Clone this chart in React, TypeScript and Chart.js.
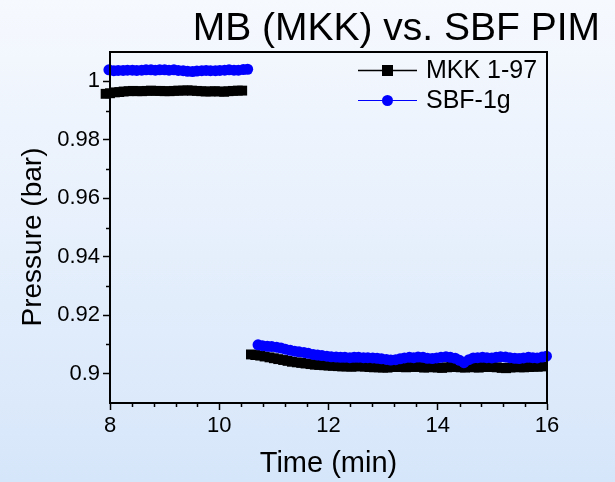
import React, { useEffect, useRef } from 'react';
import { Chart, registerables } from 'chart.js';

Chart.register(...registerables);

const chartTitle = 'MB (MKK) vs. SBF PIM';
const xAxisTitle = 'Time (min)';
const yAxisTitle = 'Pressure (bar)';
const seriesLabels = ['MKK 1-97', 'SBF-1g'];

// MKK 1-97, first segment
const mkkTime1 = [7.92, 8.0, 8.09, 8.17, 8.25, 8.34, 8.42, 8.5, 8.59, 8.67, 8.75, 8.84, 8.92, 9.0, 9.09, 9.17, 9.25, 9.34, 9.42, 9.5, 9.59, 9.67, 9.75, 9.84, 9.92, 10.0, 10.09, 10.17, 10.25, 10.34, 10.42];
const mkkPressure1 = [0.9957, 0.9959, 0.9962, 0.9963, 0.9965, 0.9966, 0.9967, 0.9966, 0.9966, 0.9967, 0.9968, 0.9967, 0.9967, 0.9966, 0.9966, 0.9967, 0.9968, 0.9968, 0.9969, 0.9968, 0.9967, 0.9966, 0.9965, 0.9965, 0.9966, 0.9965, 0.9964, 0.9966, 0.9967, 0.9968, 0.9968];
// MKK 1-97, second segment
const mkkTime2 = [10.58, 10.66, 10.75, 10.83, 10.92, 11.0, 11.08, 11.17, 11.25, 11.33, 11.42, 11.5, 11.58, 11.67, 11.75, 11.83, 11.92, 12.0, 12.08, 12.17, 12.25, 12.33, 12.42, 12.5, 12.58, 12.67, 12.75, 12.83, 12.92, 13.0, 13.08, 13.17, 13.25, 13.33, 13.42, 13.5, 13.58, 13.67, 13.75, 13.83, 13.92, 14.0, 14.08, 14.17, 14.25, 14.33, 14.42, 14.5, 14.58, 14.67, 14.75, 14.83, 14.92, 15.0, 15.08, 15.17, 15.25, 15.33, 15.42, 15.5, 15.58, 15.67, 15.75, 15.83, 15.92];
const mkkPressure2 = [0.9066, 0.9064, 0.9062, 0.9059, 0.9056, 0.9053, 0.905, 0.9047, 0.9044, 0.9041, 0.9039, 0.9037, 0.9035, 0.9033, 0.9031, 0.903, 0.9029, 0.9028, 0.9027, 0.9026, 0.9025, 0.9025, 0.9024, 0.9025, 0.9026, 0.9024, 0.9023, 0.9022, 0.9022, 0.9021, 0.9021, 0.9023, 0.9024, 0.9023, 0.9022, 0.9023, 0.9025, 0.9023, 0.9021, 0.9022, 0.9023, 0.9021, 0.902, 0.9022, 0.9024, 0.9023, 0.9022, 0.9021, 0.9023, 0.9022, 0.9021, 0.9023, 0.9024, 0.9023, 0.9022, 0.902, 0.9019, 0.9021, 0.9023, 0.9022, 0.9022, 0.9023, 0.9024, 0.9024, 0.9025];

// SBF-1g, first segment
const sbfTime1 = [7.9, 7.98, 8.07, 8.15, 8.24, 8.32, 8.41, 8.49, 8.58, 8.66, 8.75, 8.83, 8.91, 9.0, 9.08, 9.17, 9.25, 9.34, 9.42, 9.51, 9.59, 9.68, 9.76, 9.84, 9.93, 10.01, 10.1, 10.18, 10.27, 10.35, 10.44, 10.52];
const sbfPressure1 = [1.0041, 1.0039, 1.0036, 1.0037, 1.0037, 1.0038, 1.0038, 1.0037, 1.0038, 1.0039, 1.0039, 1.0038, 1.0039, 1.0039, 1.0038, 1.0039, 1.0037, 1.0036, 1.0034, 1.0033, 1.0035, 1.0036, 1.0037, 1.0036, 1.0036, 1.0037, 1.0038, 1.0039, 1.0038, 1.0038, 1.004, 1.0041];
// SBF-1g, second segment
const sbfTime2 = [10.71, 10.79, 10.88, 10.96, 11.05, 11.13, 11.21, 11.3, 11.38, 11.46, 11.55, 11.63, 11.72, 11.8, 11.88, 11.97, 12.05, 12.14, 12.22, 12.3, 12.39, 12.47, 12.55, 12.64, 12.72, 12.81, 12.89, 12.97, 13.06, 13.14, 13.23, 13.31, 13.39, 13.48, 13.56, 13.64, 13.73, 13.81, 13.9, 13.98, 14.06, 14.15, 14.23, 14.32, 14.4, 14.48, 14.57, 14.65, 14.73, 14.82, 14.9, 14.99, 15.07, 15.15, 15.24, 15.32, 15.41, 15.49, 15.57, 15.66, 15.74, 15.82, 15.91, 15.99];
const sbfPressure2 = [0.9099, 0.9096, 0.9094, 0.9093, 0.9091, 0.9088, 0.9084, 0.908, 0.9077, 0.9075, 0.9073, 0.907, 0.9066, 0.9064, 0.9062, 0.906, 0.9058, 0.9057, 0.9056, 0.9056, 0.9055, 0.9056, 0.9056, 0.9055, 0.9055, 0.9054, 0.9053, 0.9051, 0.9049, 0.9047, 0.9048, 0.9051, 0.9054, 0.9056, 0.9055, 0.9057, 0.9056, 0.9053, 0.9052, 0.9054, 0.9056, 0.9058, 0.9056, 0.9053, 0.9046, 0.9038, 0.9048, 0.9054, 0.9055, 0.9056, 0.9055, 0.9054, 0.9056, 0.9058, 0.9057, 0.9055, 0.9053, 0.9052, 0.9054, 0.9056, 0.9055, 0.9054, 0.9057, 0.906];

const xTicks = [8, 10, 12, 14, 16];
const xTickLabels = ['8', '10', '12', '14', '16'];
const xMinorTicks = [8.4, 8.8, 9.2, 9.6, 10.4, 10.8, 11.2, 11.6, 12.4, 12.8, 13.2, 13.6, 14.4, 14.8, 15.2, 15.6];
const yTicks = [0.9, 0.92, 0.94, 0.96, 0.98, 1];
const yTickLabels = ['0.9', '0.92', '0.94', '0.96', '0.98', '1'];
const yMinorTicks = [0.91, 0.93, 0.95, 0.97, 0.99];

const FONT = '"Liberation Sans", Arial, sans-serif';

function pts(t: number[], p: number[]) {
  return t.map((x, i) => ({ x, y: p[i] }));
}

const decorPlugin = {
  id: 'decor',
  afterDraw(chart: any) {
    const ctx = chart.ctx as CanvasRenderingContext2D;
    const { left, right, top, bottom } = chart.chartArea;
    const xs = chart.scales.x;
    const ys = chart.scales.y;
    ctx.save();
    // frame
    ctx.strokeStyle = '#000';
    ctx.lineWidth = 2;
    ctx.strokeRect(left, top, right - left, bottom - top);
    // minor ticks
    ctx.lineWidth = 1.5;
    ctx.beginPath();
    xMinorTicks.forEach((v) => {
      const px = Math.round(xs.getPixelForValue(v)) + 0.5;
      ctx.moveTo(px, bottom);
      ctx.lineTo(px, bottom + 4);
    });
    yMinorTicks.forEach((v) => {
      const py = Math.round(ys.getPixelForValue(v)) + 0.5;
      ctx.moveTo(left, py);
      ctx.lineTo(left - 4, py);
    });
    ctx.stroke();
    // chart title
    ctx.fillStyle = '#000';
    ctx.font = `39px ${FONT}`;
    ctx.textAlign = 'right';
    ctx.textBaseline = 'alphabetic';
    ctx.fillText(chartTitle, 600, 40);
    // y axis title
    ctx.save();
    ctx.translate(33, 237);
    ctx.rotate(-Math.PI / 2);
    ctx.font = `28px ${FONT}`;
    ctx.textAlign = 'center';
    ctx.textBaseline = 'middle';
    ctx.fillText(yAxisTitle, 0, 0);
    ctx.restore();
    // legend
    const rows = [70, 100];
    chart.data.datasets.forEach((ds: any, i: number) => {
      const y = rows[i];
      ctx.strokeStyle = ds.borderColor;
      ctx.lineWidth = ds.borderWidth;
      ctx.beginPath();
      ctx.moveTo(358, y + 0.5);
      ctx.lineTo(417, y + 0.5);
      ctx.stroke();
      ctx.fillStyle = ds.pointBackgroundColor;
      if (ds.pointStyle === 'rect') {
        ctx.fillRect(382, y - 5, 11, 11);
      } else {
        ctx.beginPath();
        ctx.arc(387.5, y + 0.5, 5.5, 0, Math.PI * 2);
        ctx.fill();
      }
      ctx.fillStyle = '#000';
      ctx.font = `25px ${FONT}`;
      ctx.textAlign = 'left';
      ctx.textBaseline = 'middle';
      ctx.fillText(ds.label, 426, y + 1);
    });
    ctx.restore();
  },
};

export default function App() {
  const ref = useRef<HTMLCanvasElement | null>(null);
  useEffect(() => {
    if (!ref.current) return;
    const chart = new Chart(ref.current, {
      type: 'line',
      data: {
        datasets: [
          {
            label: seriesLabels[0],
            data: [...pts(mkkTime1, mkkPressure1), { x: 10.5, y: null as any }, ...pts(mkkTime2, mkkPressure2)],
            borderColor: '#000000',
            backgroundColor: '#000000',
            pointBackgroundColor: '#000000',
            pointBorderColor: '#000000',
            borderWidth: 1.5,
            pointStyle: 'rect',
            pointRadius: 7,
            pointBorderWidth: 0,
            spanGaps: false,
            clip: false as any,
            order: 2,
          },
          {
            label: seriesLabels[1],
            data: [...pts(sbfTime1, sbfPressure1), { x: 10.6, y: null as any }, ...pts(sbfTime2, sbfPressure2)],
            borderColor: '#0000ff',
            backgroundColor: '#0000ff',
            pointBackgroundColor: '#0000ff',
            pointBorderColor: '#0000ff',
            borderWidth: 1,
            pointStyle: 'circle',
            pointRadius: 5.5,
            pointBorderWidth: 0,
            spanGaps: false,
            clip: false as any,
            order: 1,
          },
        ],
      },
      options: {
        responsive: false,
        animation: false,
        devicePixelRatio: 1,
        layout: { padding: { top: 52, right: 68, bottom: 0, left: 0 } },
        plugins: {
          legend: { display: false },
          title: { display: false },
          tooltip: { enabled: false },
        },
        scales: {
          x: {
            type: 'linear',
            min: 8,
            max: 16,
            afterBuildTicks: (scale: any) => {
              scale.ticks = xTicks.map((v) => ({ value: v }));
            },
            afterFit: (scale: any) => {
              scale.height = 79;
            },
            ticks: {
              callback: (_v: any, i: number) => xTickLabels[i],
              font: { family: FONT, size: 22 },
              color: '#000',
              padding: 3,
              maxRotation: 0,
            },
            grid: { drawOnChartArea: false, drawTicks: true, tickLength: 7, tickWidth: 1.5, tickColor: '#000' },
            border: { display: true, color: '#000', width: 2 },
            title: { display: true, text: xAxisTitle, color: '#000', font: { family: FONT, size: 29 }, padding: { top: 0, bottom: 1 } },
          },
          y: {
            type: 'linear',
            min: 0.89,
            max: 1.01,
            afterBuildTicks: (scale: any) => {
              scale.ticks = yTicks.map((v) => ({ value: v }));
            },
            afterFit: (scale: any) => {
              scale.width = 110;
            },
            ticks: {
              callback: (_v: any, i: number) => yTickLabels[i],
              font: { family: FONT, size: 22 },
              color: '#000',
              padding: 3,
            },
            grid: { drawOnChartArea: false, drawTicks: true, tickLength: 7, tickWidth: 1.5, tickColor: '#000' },
            border: { display: true, color: '#000', width: 2 },
            title: { display: false, text: yAxisTitle },
          },
        },
      },
      plugins: [decorPlugin],
    } as any);
    return () => chart.destroy();
  }, []);

  return (
    <div
      style={{
        position: 'absolute',
        left: 0,
        top: 0,
        width: 615,
        height: 482,
        background: 'linear-gradient(180deg, #f6f9fe 0%, #d6e6fa 100%)',
      }}
    >
      <canvas ref={ref} width={615} height={482} style={{ display: 'block', width: 615, height: 482 }} />
    </div>
  );
}
